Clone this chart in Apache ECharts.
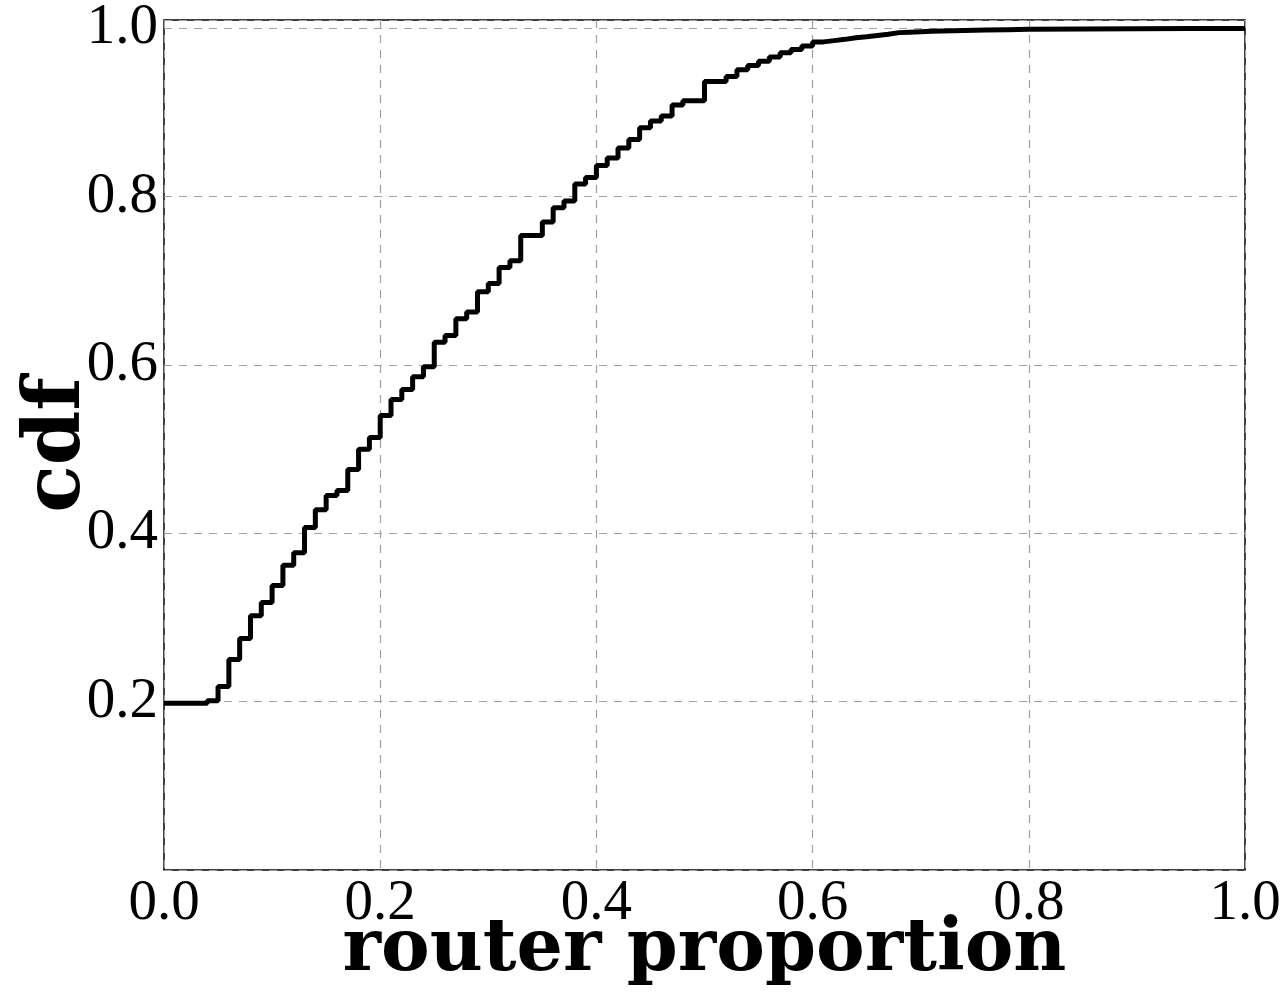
<!DOCTYPE html>
<html>
<head>
<meta charset="utf-8">
<script src="https://cdn.jsdelivr.net/npm/echarts@6/dist/echarts.min.js"></script>
<style>html,body{margin:0;padding:0;background:#fff}#c{width:1286px;height:999px}</style>
</head>
<body>
<div id="c"></div>
<script>
// x positions of the CDF steps (router proportion)
const xValues = [0.00,0.01,0.02,0.03,0.04,0.05,0.06,0.07,0.08,0.09,
  0.10,0.11,0.12,0.13,0.14,0.15,0.16,0.17,0.18,0.19,
  0.20,0.21,0.22,0.23,0.24,0.25,0.26,0.27,0.28,0.29,
  0.30,0.31,0.32,0.33,0.34,0.35,0.36,0.37,0.38,0.39,
  0.40,0.41,0.42,0.43,0.44,0.45,0.46,0.47,0.48,0.49,
  0.50,0.51,0.52,0.53,0.54,0.55,0.56,0.57,0.58,0.59,
  0.60,0.61,0.62,0.63,0.64,0.65,0.66,0.67,0.68,0.69,
  0.70,0.71,0.72,0.74,0.76,0.78,0.80,0.85,0.90,0.95,1.00];
// cdf value held from each x to the next
const cdfValues = [0.198,0.198,0.198,0.198,0.201,0.218,0.250,0.275,0.302,0.318,
  0.338,0.362,0.377,0.407,0.428,0.445,0.451,0.476,0.500,0.514,
  0.540,0.559,0.571,0.586,0.598,0.627,0.635,0.655,0.663,0.687,
  0.697,0.716,0.724,0.754,0.754,0.770,0.787,0.795,0.815,0.823,
  0.837,0.846,0.858,0.868,0.882,0.890,0.896,0.909,0.914,0.914,
  0.937,0.937,0.943,0.951,0.956,0.961,0.966,0.971,0.975,0.979,
  0.984,0.9855,0.987,0.989,0.990,0.9915,0.993,0.995,0.9955,0.996,
  0.9965,0.997,0.9975,0.998,0.9985,0.999,0.9993,0.9996,0.9998,0.9999,1.000];
const xTicks = [0.0,0.2,0.4,0.6,0.8,1.0];
const yTicks = [0.2,0.4,0.6,0.8,1.0];
const xTitle = 'router proportion';
const yTitle = 'cdf';

const data = xValues.map((x, i) => [x, cdfValues[i]]);
const chart = echarts.init(document.getElementById('c'));
const tickFont = {fontFamily: 'Liberation Serif', fontSize: 57, color: '#000'};
const dash = {color: '#a0a0a0', width: 1.2, type: [8, 7]};
chart.setOption({
  animation: false,
  grid: {left: 164, right: 41, top: 20, bottom: 129, containLabel: false, outerBoundsMode: 'none',
    show: true, borderColor: '#000', borderWidth: 1.5, backgroundColor: 'transparent'},
  xAxis: {
    type: 'value', min: 0, max: 1, interval: 0.2,
    axisLine: {show: false}, axisTick: {show: false},
    axisLabel: Object.assign({margin: 6, formatter: v => {
      const m = xTicks.find(t => Math.abs(t - v) < 1e-6);
      return m === undefined ? '' : m.toFixed(1);
    }}, tickFont),
    splitLine: {show: true, lineStyle: dash},
    name: xTitle, nameLocation: 'middle', nameGap: 45, nameMoveOverlap: false,
    nameTextStyle: {fontFamily: 'DejaVu Serif', fontWeight: 'bold', fontSize: 73, color: '#000', verticalAlign: 'top', lineHeight: 73}
  },
  yAxis: {
    type: 'value', min: 0, max: 1.01, interval: 0.2,
    axisLine: {show: false}, axisTick: {show: false},
    axisLabel: Object.assign({margin: 6, showMaxLabel: false, formatter: v => {
      const m = yTicks.find(t => Math.abs(t - v) < 1e-6);
      return m === undefined ? '' : m.toFixed(1);
    }}, tickFont),
    splitLine: {show: true, lineStyle: dash},
    name: yTitle, nameLocation: 'middle', nameGap: 66, nameRotate: 90, nameMoveOverlap: false,
    nameTextStyle: {fontFamily: 'DejaVu Serif', fontWeight: 'bold', fontSize: 78, color: '#000', verticalAlign: 'bottom', lineHeight: 78}
  },
  series: [{
    type: 'line', step: 'end', symbol: 'none', data: data,
    lineStyle: {color: '#000', width: 5}, clip: false
  }]
});
</script>
</body>
</html>
